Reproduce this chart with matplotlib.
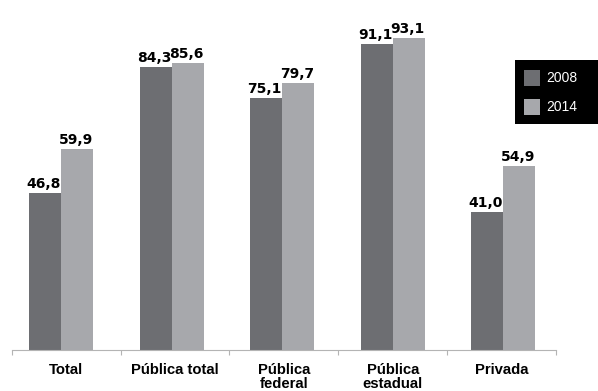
"""
Bar chart: 2008 vs 2014 by category
"""
import numpy as np
import matplotlib
matplotlib.use('Agg')
import matplotlib.pyplot as plt
from matplotlib.patches import Rectangle

# Data
categories = ['Total', 'Pública total', 'Pública\nfederal', 'Pública\nestadual', 'Privada']
years = ['2008', '2014']
vals_2008 = [46.8, 84.3, 75.1, 91.1, 41.0]
vals_2014 = [59.9, 85.6, 79.7, 93.1, 54.9]

dark = '#6d6e72'
light = '#a7a8ac'
axis_gray = '#b4b4b4'

W, H = 598, 391
fig = plt.figure(figsize=(W / 100, H / 100), dpi=100)
ax = fig.add_axes([11.7 / W, 41 / H, 544.3 / W, 350 / H])

x = np.arange(len(categories))
bw = 0.29
b1 = ax.bar(x - bw / 2, vals_2008, bw, color=dark, linewidth=0)
b2 = ax.bar(x + bw / 2, vals_2014, bw, color=light, linewidth=0)

# value labels, comma decimal
for bars, vals in [(b1, vals_2008), (b2, vals_2014)]:
    for rect, v in zip(bars, vals):
        ax.annotate(f'{v:.1f}'.replace('.', ','),
                    xy=(rect.get_x() + rect.get_width() / 2, v),
                    xytext=(-1, 3.6), textcoords='offset points',
                    ha='center', va='baseline', fontsize=10,
                    fontweight='bold', family='DejaVu Sans', color='black')

# bar groups sit slightly wider apart than the axis divisions
x0, x1 = -0.446, 4.476
ax.set_xlim(x0, x1)
ax.set_ylim(0, 104.3)

bounds = np.linspace(x0, x1, len(categories) + 1)
mids = (bounds[:-1] + bounds[1:]) / 2
ax.set_xticks(bounds)
ax.set_xticklabels([])
ax.tick_params(axis='x', which='major', length=3.6, width=0.8, color=axis_gray, direction='out')
ax.set_xticks(mids, minor=True)
ax.set_xticklabels(categories, minor=True, fontsize=10.7, fontweight='bold',
                   family='Liberation Sans', linespacing=0.95)
ax.tick_params(axis='x', which='minor', length=0, pad=9.5)

ax.set_yticks([])
for s in ['left', 'right', 'top']:
    ax.spines[s].set_visible(False)
ax.spines['bottom'].set_color(axis_gray)
ax.spines['bottom'].set_linewidth(0.8)

# legend box (black)
def fx(px):
    return px / W

def fy(py):
    return 1 - py / H

fig.patches.append(Rectangle((fx(515), fy(123.5)), fx(90), 63.5 / H,
                             transform=fig.transFigure, facecolor='black',
                             edgecolor='none', zorder=5))
for i, (lab, col) in enumerate(zip(years, [dark, light])):
    top = 70 + i * 29
    fig.patches.append(Rectangle((fx(524), fy(top + 16)), 16 / W, 16 / H,
                                 transform=fig.transFigure, facecolor=col,
                                 edgecolor='none', zorder=6))
    fig.text(fx(546), fy(top + 8), lab, color='white', fontsize=10,
             family='Liberation Sans', ha='left', va='center', zorder=7)

plt.savefig('out.png', dpi=100)
